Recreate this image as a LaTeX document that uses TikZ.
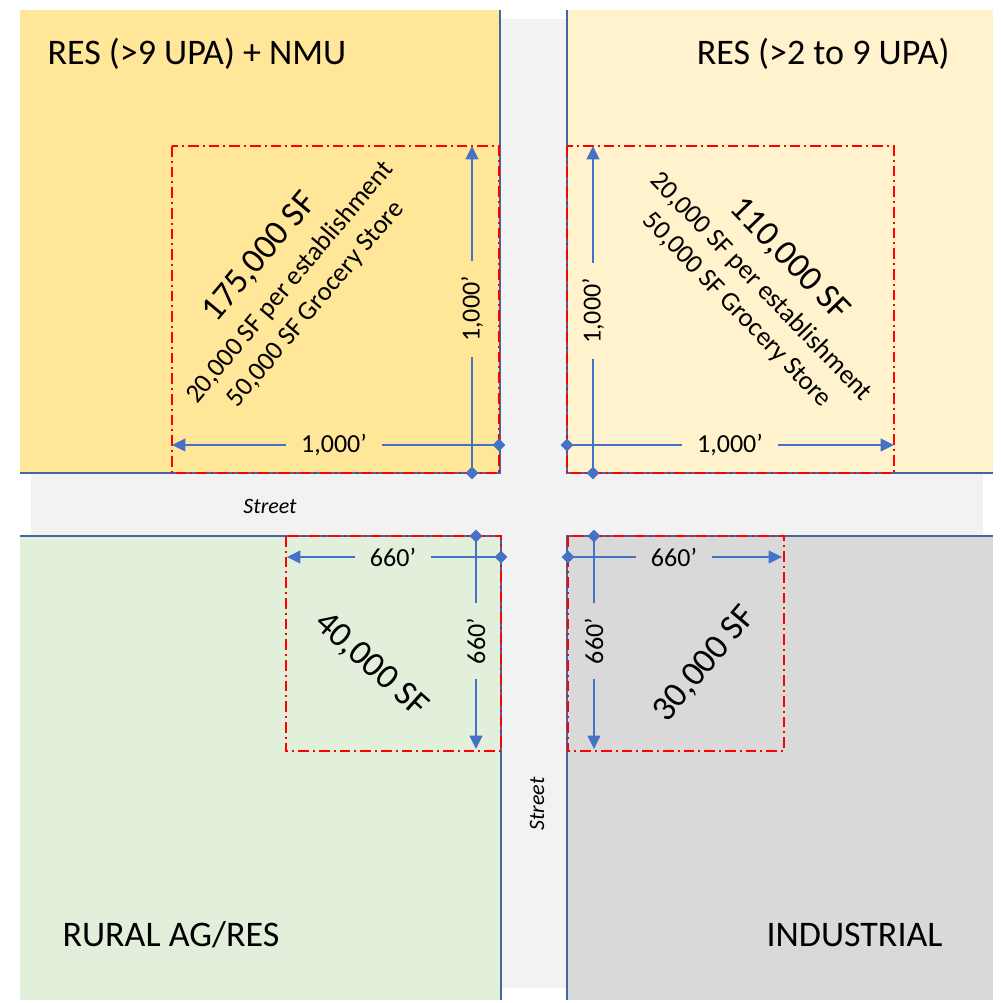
\documentclass[tikz,border=0pt]{standalone}
\usepackage{fontspec}
\setmainfont{Carlito}
\usetikzlibrary{arrows.meta}

\definecolor{resHigh}{RGB}{255,230,153}
\definecolor{resLow}{RGB}{255,242,204}
\definecolor{ruralGreen}{RGB}{226,239,218}
\definecolor{indGray}{RGB}{217,217,217}
\definecolor{streetGray}{RGB}{242,242,242}
\definecolor{edgeBlue}{RGB}{70,102,162}
\definecolor{dimBlue}{RGB}{68,114,196}
\definecolor{limitRed}{RGB}{255,0,0}

\tikzset{every picture/.style={line width=0.75pt}}
\tikzset{
  parcel edge/.style={draw=edgeBlue, line width=1.5pt},
  limit box/.style={draw=limitRed, line width=1.1pt, dash pattern=on 8pt off 3pt on 1.5pt off 3pt},
  dim line/.style={draw=dimBlue, line width=1.5pt},
  dim start/.style={dim line, {Diamond[length=9.5pt,width=9.5pt]}-, shorten <=-4.75pt},
  dim end/.style={dim line, -{Triangle[length=10pt,width=9.5pt]}},
  dim label/.style={font=\fontsize{19.5}{23}\selectfont, inner xsep=11pt, inner ysep=2pt},
  zone label/.style={font=\fontsize{27}{32}\selectfont, inner sep=0pt},
  area label/.style={font=\fontsize{26.5}{32}\selectfont},
  area block/.style={align=center, font=\fontsize{20}{25}\selectfont, inner sep=0pt},
  street label/.style={font=\itshape\fontsize{16.5}{20}\selectfont},
}

\begin{document}
\begin{tikzpicture}[x=0.75pt,y=0.75pt,yscale=-1]
\useasboundingbox (0,0) rectangle (1000,1003);

%Shape: Streets
\fill[streetGray] (500,19) rectangle (567,988);
\fill[streetGray] (31,473) rectangle (983,536);

%Shape: Parcels
\fill[resHigh] (20,10) rectangle (500,473);
\fill[resLow] (567,10) rectangle (993,473);
\fill[ruralGreen] (20,536) rectangle (501,1000);
\fill[indGray] (567,536) rectangle (993,1000);

%Straight Lines: parcel edges along the streets
\draw[parcel edge] (500,10) -- (500,473) -- (20,473);
\draw[parcel edge] (567,10) -- (567,473) -- (993,473);
\draw[parcel edge] (20,536) -- (501,536) -- (501,1000);
\draw[parcel edge] (993,536) -- (567,536) -- (567,1000);

%Shape: Rectangle (limit boxes)
\draw[limit box] (172,146) rectangle (499,473);
\draw[limit box] (567,146) rectangle (894,473);
\draw[limit box] (286,536) rectangle (501,751);
\draw[limit box] (568,536) rectangle (784,751);

% Text Node
\node[zone label, anchor=base west] (zoneTL) at (47,64) {RES (>9 UPA) + NMU};
% Text Node
\node[zone label, anchor=base east] (zoneTR) at (950,64) {RES (>2 to 9 UPA)};
% Text Node
\node[zone label, anchor=base west] (zoneBL) at (62,946) {RURAL AG/RES};
% Text Node
\node[zone label, anchor=base east] (zoneBR) at (943,946) {INDUSTRIAL};

% Text Node
\node[street label] (streetH) at (270,506) {Street};
% Text Node
\node[street label, rotate=90] (streetV) at (537,804) {Street};

% Text Node
\node[area block, rotate=50] (areaTL) at (287,280)
  {{\fontsize{26.5}{31}\selectfont 175,000 SF}\\[3pt] 20,000 SF per establishment\\ 50,000 SF Grocery Store};
% Text Node
\node[area block, rotate=-46] (areaTR) at (764,284)
  {{\fontsize{26.5}{31}\selectfont 110,000 SF}\\[3pt] 20,000 SF per establishment\\ 50,000 SF Grocery Store};
% Text Node
\node[area label, rotate=-42] (areaBL) at (371,665) {40,000 SF};
% Text Node
\node[area label, rotate=50] (areaBR) at (705,664) {30,000 SF};

%Dimension: top left
\coordinate (tlH0) at (499,445);
\coordinate (tlH1) at (172,445);
\node[dim label] (tlHlbl) at (334,445) {1,000’};
\draw[dim start] (tlH0) -- (tlHlbl);
\draw[dim end] (tlHlbl) -- (tlH1);
\coordinate (tlV0) at (472,473);
\coordinate (tlV1) at (472,146);
\node[dim label, rotate=90] (tlVlbl) at (472,309) {1,000’};
\draw[dim start] (tlV0) -- (tlVlbl);
\draw[dim end] (tlVlbl) -- (tlV1);

%Dimension: top right
\coordinate (trH0) at (567,445);
\coordinate (trH1) at (894,445);
\node[dim label] (trHlbl) at (730,445) {1,000’};
\draw[dim start] (trH0) -- (trHlbl);
\draw[dim end] (trHlbl) -- (trH1);
\coordinate (trV0) at (593,473);
\coordinate (trV1) at (593,146);
\node[dim label, rotate=90] (trVlbl) at (593,311) {1,000’};
\draw[dim start] (trV0) -- (trVlbl);
\draw[dim end] (trVlbl) -- (trV1);

%Dimension: bottom left
\coordinate (blH0) at (501,557);
\coordinate (blH1) at (287,557);
\node[dim label] (blHlbl) at (393,557) {660’};
\draw[dim start] (blH0) -- (blHlbl);
\draw[dim end] (blHlbl) -- (blH1);
\coordinate (blV0) at (476,536);
\coordinate (blV1) at (476,749);
\node[dim label, rotate=90] (blVlbl) at (476,641) {660’};
\draw[dim start] (blV0) -- (blVlbl);
\draw[dim end] (blVlbl) -- (blV1);

%Dimension: bottom right
\coordinate (brH0) at (568,557);
\coordinate (brH1) at (782,557);
\node[dim label] (brHlbl) at (674,557) {660’};
\draw[dim start] (brH0) -- (brHlbl);
\draw[dim end] (brHlbl) -- (brH1);
\coordinate (brV0) at (594,536);
\coordinate (brV1) at (594,749);
\node[dim label, rotate=90] (brVlbl) at (594,641) {660’};
\draw[dim start] (brV0) -- (brVlbl);
\draw[dim end] (brVlbl) -- (brV1);

\end{tikzpicture}
\end{document}
